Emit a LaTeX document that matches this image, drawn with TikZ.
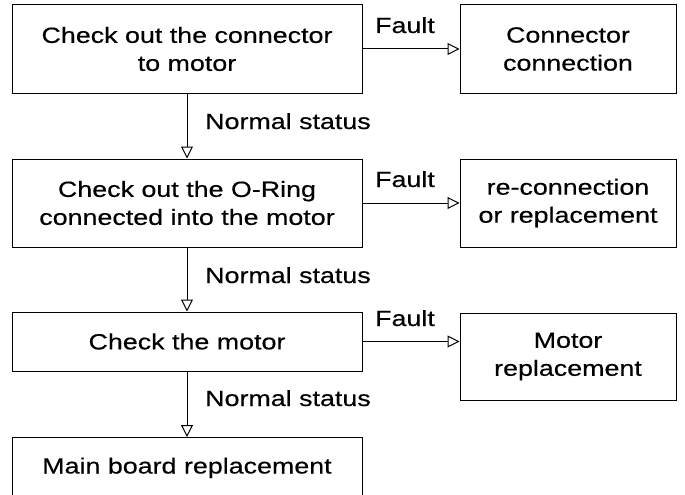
\documentclass[tikz,border=0pt]{standalone}
\usepackage{fontspec}
\setmainfont[FakeStretch=1.22,FakeBold=0.4]{Liberation Sans}
\usetikzlibrary{arrows.meta}
\begin{document}
\begin{tikzpicture}[x=1pt,y=-1pt,
  box/.style={draw=black,line width=1pt,inner sep=0pt,align=center,
    font=\fontsize{22}{28}\selectfont},
  lbl/.style={inner sep=0pt,font=\fontsize{22}{28}\selectfont},
  flow/.style={draw=black,line width=1pt,
    -{Triangle[open,length=12pt,width=12pt,fill=white]}}]
\useasboundingbox (0,0) rectangle (685,495);
\clip (0,0) rectangle (685,495);
% main column
\node[box,minimum width=350pt,minimum height=88pt] (c1) at (187,49)
  {Check out the connector\\to motor};
\node[box,minimum width=350pt,minimum height=88pt] (c2) at (187,203)
  {Check out the O-Ring\\connected into the motor};
\node[box,minimum width=350pt,minimum height=59pt] (c3) at (187,341.5)
  {Check the motor};
\node[box,anchor=north,minimum width=350pt,text height=36pt,text depth=30pt] (c4) at (187,437)
  {Main board replacement};
% fault column
\node[box,minimum width=216pt,minimum height=88pt] (f1) at (568,49)
  {Connector\\connection};
\node[box,minimum width=216pt,minimum height=88pt] (f2) at (568,203)
  {re-connection\\or replacement};
\node[box,minimum width=216pt,minimum height=87pt] (f3) at (568,356.5)
  {Motor\\replacement};
% connectors
\draw[flow] (c1.south) -- (c2.north);
\draw[flow] (c2.south) -- (c3.north);
\draw[flow] (c3.south) -- (c4.north);
\draw[flow] (c1.east) -- (f1.west);
\draw[flow] (c2.east) -- (f2.west);
\draw[flow] (c3.east) -- (c3.east -| f3.west);
% labels
\node[lbl,anchor=base west] (n1) at (205,129) {Normal status};
\node[lbl,anchor=base west] (n2) at (205,283) {Normal status};
\node[lbl,anchor=base west] (n3) at (205,406) {Normal status};
\node[lbl,anchor=base] (l1) at (405,33) {Fault};
\node[lbl,anchor=base] (l2) at (405,187) {Fault};
\node[lbl,anchor=base] (l3) at (405,326) {Fault};
\end{tikzpicture}
\end{document}
